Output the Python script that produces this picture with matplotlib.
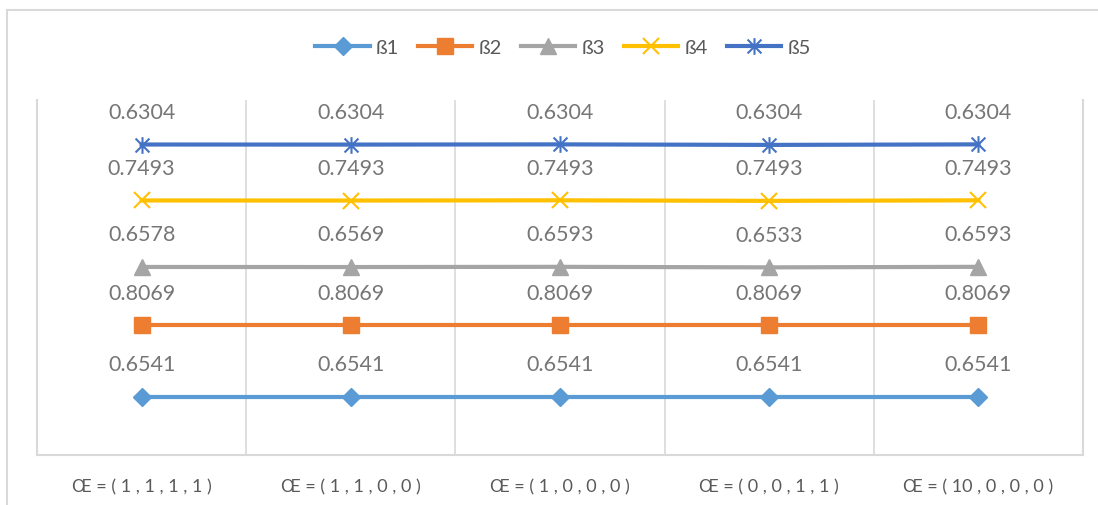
import matplotlib
matplotlib.use("Agg")
import matplotlib.pyplot as plt
from matplotlib.path import Path
from matplotlib.patches import Rectangle
import numpy as np

plt.rcParams['font.family'] = ['Lato', 'DejaVu Sans']

categories = ["Œ = ( 1 , 1 , 1 , 1 )", "Œ = ( 1 , 1 , 0 , 0 )", "Œ = ( 1 , 0 , 0 , 0 )",
              "Œ = ( 0 , 0 , 1 , 1 )", "Œ = ( 10 , 0 , 0 , 0 )"]
series_names = ["ß1", "ß2", "ß3", "ß4", "ß5"]
b1 = [0.6541, 0.6541, 0.6541, 0.6541, 0.6541]
b2 = [0.8069, 0.8069, 0.8069, 0.8069, 0.8069]
b3 = [0.6578, 0.6569, 0.6593, 0.6533, 0.6593]
b4 = [0.7493, 0.7493, 0.7493, 0.7493, 0.7493]
b5 = [0.6304, 0.6304, 0.6304, 0.6304, 0.6304]
series = [b1, b2, b3, b4, b5]
colors = ["#5B9BD5", "#ED7D31", "#A5A5A5", "#FFC000", "#4472C4"]

star = Path([(-1, -1), (1, 1), (-1, 1), (1, -1), (0, -1.2), (0, 1.2)],
            [Path.MOVETO, Path.LINETO, Path.MOVETO, Path.LINETO, Path.MOVETO, Path.LINETO])
markers = ["D", "s", "^", "x", star]
msizes = [9, 11, 11, 12, 12]

fig = plt.figure(figsize=(10.98, 5.06), dpi=100)
fig.patches.append(Rectangle((7/1098, -0.1), 1.2, 1 - 11/506 + 0.1, transform=fig.transFigure,
                             fill=False, edgecolor="#D9D9D9", linewidth=1.5))
ax = fig.add_axes([37/1098, 1 - 456/506, (1083 - 37)/1098, (456 - 101)/506])

x = np.arange(len(categories)) + 0.5
cum = np.zeros(len(categories))
handles = []
for name, vals, c, m, ms in zip(series_names, series, colors, markers, msizes):
    cum = cum + np.array(vals)
    h, = ax.plot(x, cum, color=c, linewidth=3, marker=m, markersize=ms,
                 markeredgewidth=1.5 if (m == "x" or m is star) else 1,
                 markerfacecolor=c, markeredgecolor=c, label=name, zorder=3)
    handles.append(h)
    for xi, yi, v in zip(x, cum, vals):
        ax.annotate(f"{v:.4f}", (xi, yi), xytext=(0, 23.5), textcoords="offset points",
                    ha="center", va="center", fontsize=15.5, color="#767676")

ax.set_xlim(0, 5)
ax.set_ylim(0, 4)
ax.set_xticks(x)
ax.set_xticklabels(categories, fontsize=13, color="#595959")
ax.tick_params(axis="x", length=0, pad=17)
ax.set_yticks([])
for b in [1, 2, 3, 4]:
    ax.axvline(b, color="#D9D9D9", linewidth=1.2, zorder=1)
for s in ["left", "right", "bottom"]:
    ax.spines[s].set_color("#D9D9D9")
    ax.spines[s].set_linewidth(1.5)
ax.spines["top"].set_visible(False)

fig.legend(handles=handles, loc="center", bbox_to_anchor=(563/1098, 1 - 48/506), ncol=5,
           frameon=False, fontsize=14.5, handlelength=2.7, columnspacing=0.95, handletextpad=0.3,
           labelcolor="#595959")

fig.savefig("out.png", dpi=100)
